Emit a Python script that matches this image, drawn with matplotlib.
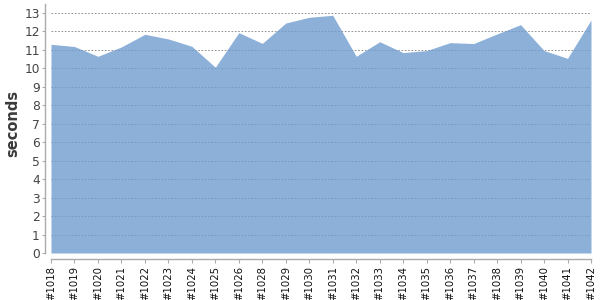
import matplotlib
matplotlib.use("Agg")
import matplotlib.pyplot as plt
import numpy as np

builds = ["#1018", "#1019", "#1020", "#1021", "#1022", "#1023", "#1024", "#1025",
          "#1026", "#1028", "#1029", "#1030", "#1031", "#1032", "#1033", "#1034",
          "#1035", "#1036", "#1037", "#1038", "#1039", "#1040", "#1041", "#1042"]
seconds = [11.29, 11.17, 10.64, 11.15, 11.83, 11.58, 11.18, 10.05,
           11.92, 11.34, 12.44, 12.75, 12.86, 10.64, 11.43, 10.84,
           10.95, 11.38, 11.33, 11.85, 12.35, 10.95, 10.53, 12.6]
yticks = list(range(0, 14))

fig = plt.figure(figsize=(6, 3), dpi=100)
ax = fig.add_axes([51/600, 47/300, 540/600, 249/300])

for s in ["top", "right"]:
    ax.spines[s].set_visible(False)
for s in ["left", "bottom"]:
    ax.spines[s].set_position(("outward", 4))
    ax.spines[s].set_color("#aaaaaa")
    ax.spines[s].set_linewidth(1.0)

x = np.arange(len(builds))
ax.fill_between(x, 0, seconds, color="#709CCF", alpha=0.8, linewidth=0, zorder=2)

ax.set_xlim(0, len(builds) - 1)
ax.set_ylim(0, 13.47)
ax.set_yticks(yticks)
ax.set_yticklabels([str(t) for t in yticks], fontsize=8.8, color="#444444")
ax.set_xticks(x)
ax.set_xticklabels(builds, rotation=90, fontsize=7.3, color="#111111")

ax.yaxis.grid(True, linestyle=(0, (2, 2)), color="#808080", linewidth=0.6, zorder=1)
ax.set_axisbelow(True)

ax.tick_params(axis="y", length=2, color="#aaaaaa", pad=2)
ax.tick_params(axis="x", length=3, color="#aaaaaa", pad=2)

ax.set_ylabel("seconds", fontsize=10.5, color="#3a3a3a", fontweight="semibold")
ax.yaxis.set_label_coords((13 - 51) / 540, (300 - 123 - 47) / 249)
ax.yaxis.label.set_va("center")

fig.savefig("out.png", dpi=100)
